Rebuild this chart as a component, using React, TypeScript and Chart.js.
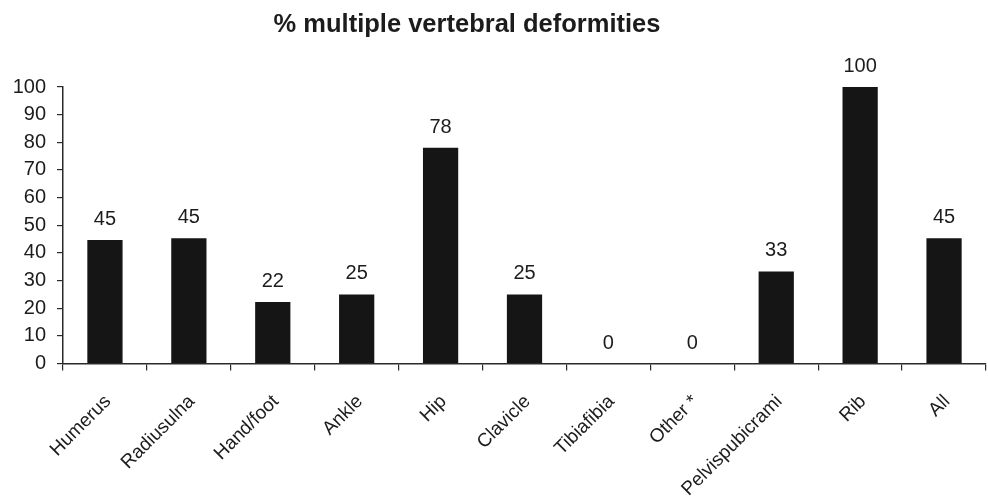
import React, { useEffect, useRef } from "react";
import { Chart, registerables } from "chart.js";

Chart.register(...registerables);

const TITLE = "% multiple vertebral deformities";
const categories = [
  "Humerus",
  "Radiusulna",
  "Hand/foot",
  "Ankle",
  "Hip",
  "Clavicle",
  "Tibiafibia",
  "Other *",
  "Pelvispubicrami",
  "Rib",
  "All",
];
const values = [44.7, 45.3, 22.2, 25, 78, 25, 0, 0, 33.3, 100, 45.3];
const yTicks = [0, 10, 20, 30, 40, 50, 60, 70, 80, 90, 100];

const FONT = "'Liberation Sans', Arial, sans-serif";
const TEXT = "#1c1c1c";
const AXIS = "#2a2a2a";

const valueLabels = {
  id: "valueLabels",
  afterDatasetsDraw(chart: any) {
    const ctx = chart.ctx;
    const meta = chart.getDatasetMeta(0);
    ctx.save();
    ctx.font = `20px ${FONT}`;
    ctx.fillStyle = TEXT;
    ctx.textAlign = "center";
    ctx.textBaseline = "alphabetic";
    meta.data.forEach((bar: any, i: number) => {
      ctx.fillText(String(Math.round(values[i])), bar.x, bar.y - 15);
    });
    ctx.restore();
  },
};

const titlePlugin = {
  id: "customTitle",
  afterDraw(chart: any) {
    const ctx = chart.ctx;
    ctx.save();
    ctx.font = `bold 25.5px ${FONT}`;
    ctx.fillStyle = TEXT;
    ctx.textAlign = "center";
    ctx.textBaseline = "alphabetic";
    ctx.fillText(TITLE, 467, 32);
    ctx.restore();
  },
};

export default function App() {
  const ref = useRef<HTMLCanvasElement | null>(null);
  useEffect(() => {
    if (!ref.current) return;
    const chart = new Chart(ref.current, {
      type: "bar",
      data: {
        labels: categories,
        datasets: [
          {
            data: values,
            backgroundColor: "#151515",
            borderWidth: 0,
            barPercentage: 0.42,
            categoryPercentage: 1,
          },
        ],
      },
      options: {
        animation: false,
        responsive: false,
        maintainAspectRatio: false,
        layout: { padding: { top: 87, right: 2, left: 0, bottom: 0 } },
        plugins: {
          legend: { display: false },
          title: { display: false },
          tooltip: { enabled: false },
        },
        scales: {
          x: {
            offset: true,
            grid: {
              offset: true,
              drawOnChartArea: false,
              drawTicks: true,
              tickLength: 7,
              color: AXIS,
              lineWidth: 1.2,
            },
            border: { display: true, color: AXIS, width: 1.5 },
            ticks: {
              autoSkip: false,
              maxRotation: 45,
              minRotation: 45,
              padding: 20,
              labelOffset: 3,
              color: TEXT,
              font: { family: FONT, size: 19 },
            },
            afterFit(scale: any) {
              scale.height = 140.5;
              scale.paddingLeft = 0;
              scale.paddingRight = 0;
            },
          },
          y: {
            min: 0,
            max: 100,
            afterBuildTicks(scale: any) {
              scale.ticks = yTicks.map((v) => ({ value: v }));
            },
            grid: {
              drawOnChartArea: false,
              drawTicks: true,
              tickLength: 6,
              color: AXIS,
              lineWidth: 1.2,
            },
            border: { display: true, color: AXIS, width: 1.5 },
            ticks: {
              padding: 11,
              color: TEXT,
              font: { family: FONT, size: 20 },
            },
            afterFit(scale: any) {
              scale.width = 63;
            },
          },
        },
      },
      plugins: [valueLabels, titlePlugin],
    });
    return () => chart.destroy();
  }, []);
  return (
    <div style={{ position: "fixed", left: 0, top: 0, width: 988, height: 504, background: "#fff" }}>
      <canvas ref={ref} width={988} height={504} style={{ width: 988, height: 504, display: "block" }} />
    </div>
  );
}
